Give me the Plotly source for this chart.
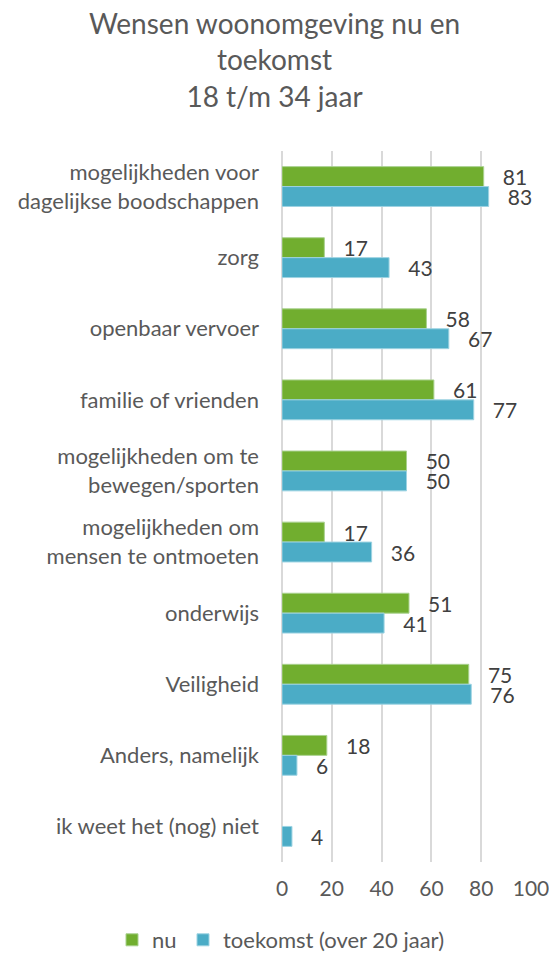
import plotly.graph_objects as go

categories = [
    "mogelijkheden voor<br>dagelijkse boodschappen",
    "zorg",
    "openbaar vervoer",
    "familie of vrienden",
    "mogelijkheden om te<br>bewegen/sporten",
    "mogelijkheden om<br>mensen te ontmoeten",
    "onderwijs",
    "Veiligheid",
    "Anders, namelijk",
    "ik weet het (nog) niet",
]
nu = [81, 17, 58, 61, 50, 17, 51, 75, 18, None]
toekomst = [83, 43, 67, 77, 50, 36, 41, 76, 6, 4]
x_ticks = [0, 20, 40, 60, 80, 100]

FONT = "Lato"
GREY = "#595959"

fig = go.Figure()
fig.add_trace(go.Bar(
    y=categories, x=nu, name="nu", orientation="h", legend="legend",
    marker=dict(color="#71AE2F", line=dict(color="#A9D18E", width=1)),
    text=nu, texttemplate="   %{x}", textposition="outside", constraintext="none",
    textfont=dict(size=21, color="#404040", family=FONT), cliponaxis=False,
))
fig.add_trace(go.Bar(
    y=categories, x=toekomst, name="toekomst (over 20 jaar)", orientation="h", legend="legend2",
    marker=dict(color="#4BACC6", line=dict(color="#9DD3E2", width=1)),
    text=toekomst, texttemplate="   %{x}", textposition="outside", constraintext="none",
    textfont=dict(size=21, color="#404040", family=FONT), cliponaxis=False,
))

legend_style = dict(orientation="h", xref="container", xanchor="left",
                    yref="container", y=1 - 940 / 958, yanchor="middle",
                    font=dict(size=22, color=GREY, family=FONT))

fig.update_layout(
    width=549, height=958,
    paper_bgcolor="white", plot_bgcolor="white",
    font=dict(family=FONT, color=GREY, size=20),
    title=dict(text="Wensen woonomgeving nu en<br>toekomst<br>18 t/m 34 jaar",
               x=0.5, xanchor="center", xref="container",
               y=1 - 34 / 958, yanchor="middle", yref="container",
               font=dict(size=28, color=GREY, family=FONT)),
    margin=dict(l=282, r=18, t=151, b=96),
    barmode="group", bargap=0.44, bargroupgap=0,
    legend=dict(x=112 / 549, **legend_style),
    legend2=dict(x=183 / 549, **legend_style),
    showlegend=True,
)
fig.update_xaxes(range=[0, 100], tickvals=x_ticks, showgrid=True, gridcolor="#D9D9D9",
                 gridwidth=1.5, zeroline=True, zerolinecolor="#D9D9D9", zerolinewidth=1.5,
                 tickfont=dict(size=21, color=GREY), ticks="", ticklabelstandoff=12,
                 ticklabeloverflow="allow", showline=False, automargin=False)
fig.update_yaxes(autorange="reversed", showgrid=False, ticks="", ticklabelstandoff=22,
                 tickfont=dict(size=22, color=GREY), showline=False, automargin=False)

fig.write_html("out.html", config={"displayModeBar": False},
               post_script="document.body.style.margin='0';")
